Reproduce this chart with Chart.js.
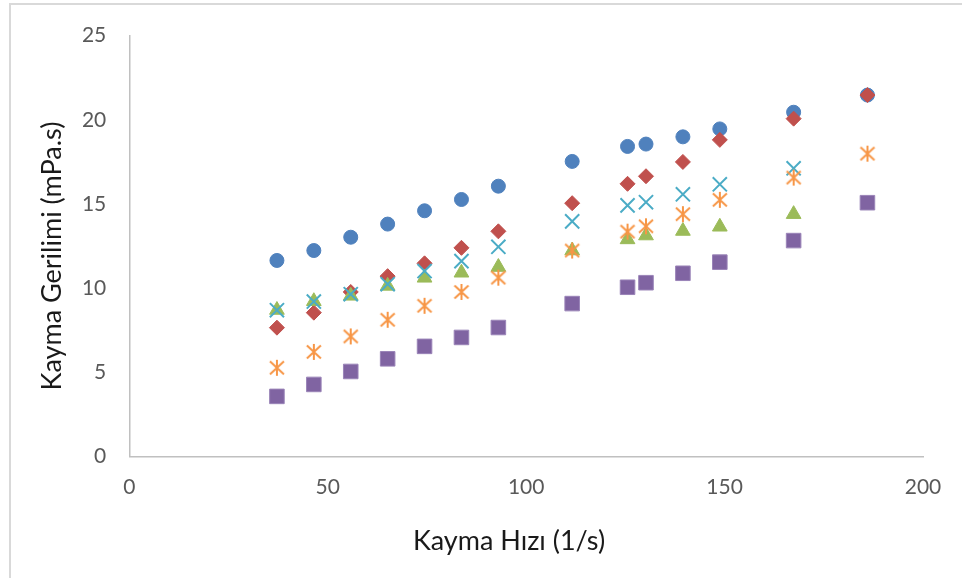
<!DOCTYPE html>
<html>
<head>
<meta charset="utf-8">
<script src="https://cdn.jsdelivr.net/npm/chart.js@4/dist/chart.umd.min.js"></script>
<style>
  html, body { margin: 0; padding: 0; background: #ffffff; }
  #wrap { position: relative; width: 962px; height: 578px; overflow: hidden; }
  #frame { position: absolute; left: 9px; top: 3px; width: 1000px; height: 600px;
           border-left: 2px solid #d9d9d9; border-top: 2px solid #d9d9d9; box-sizing: border-box; }
  canvas { position: absolute; left: 0; top: 0; }
</style>
</head>
<body>
<div id="wrap">
  <div id="frame"></div>
  <canvas id="chart" width="962" height="578"></canvas>
</div>
<script>
// Shear rate (1/s)
const shearRate = [37.2, 46.5, 55.8, 65.1, 74.4, 83.7, 93.0, 111.6, 125.55, 130.2, 139.5, 148.8, 167.4, 186.0];

// Shear stress series (mPa.s)
const seriesBlue   = [11.65, 12.24, 13.03, 13.81, 14.60, 15.27, 16.06, 17.53, 18.42, 18.56, 18.99, 19.46, 20.45, 21.47];
const seriesRed    = [7.66, 8.55, 9.78, 10.72, 11.48, 12.40, 13.38, 15.05, 16.20, 16.65, 17.50, 18.81, 20.07, 21.47];
const seriesGreen  = [8.71, 9.23, 9.55, 10.14, 10.62, 10.92, 11.26, 12.24, 12.90, 13.13, 13.40, 13.65, 14.40];
const seriesPurple = [3.58, 4.29, 5.06, 5.81, 6.55, 7.08, 7.67, 9.09, 10.06, 10.33, 10.89, 11.55, 12.83, 15.08];
const seriesCyan   = [8.70, 9.21, 9.65, 10.24, 11.02, 11.61, 12.46, 13.97, 14.92, 15.11, 15.58, 16.17, 17.12];
const seriesOrange = [5.28, 6.22, 7.14, 8.13, 8.96, 9.78, 10.63, 12.24, 13.36, 13.68, 14.40, 15.25, 16.57, 17.99];

// Axis ticks and titles
const xTicks = [0, 50, 100, 150, 200];
const yTicks = [0, 5, 10, 15, 20, 25];
const xTitle = 'Kayma Hızı (1/s)';
const yTitle = 'Kayma Gerilimi (mPa.s)';

function toPoints(values) {
  return values.map((v, i) => ({ x: shearRate[i], y: v }));
}

// Six-armed asterisk marker (X with a vertical stroke)
function asteriskMarker(color) {
  const c = document.createElement('canvas');
  c.width = 18; c.height = 18;
  const g = c.getContext('2d');
  g.strokeStyle = color;
  g.lineWidth = 2;
  g.lineCap = 'butt';
  g.beginPath();
  g.moveTo(2, 2.5); g.lineTo(16, 15.5);
  g.moveTo(16, 2.5); g.lineTo(2, 15.5);
  g.moveTo(9, 1); g.lineTo(9, 17);
  g.stroke();
  return c;
}

const FONT = 'Lato, "Open Sans", sans-serif';

const axisTitles = {
  id: 'axisTitles',
  afterDraw(chart) {
    const ctx = chart.ctx;
    ctx.save();
    ctx.fillStyle = '#1a1a1a';
    ctx.font = '27px ' + FONT;
    ctx.textAlign = 'center';
    ctx.textBaseline = 'middle';
    ctx.fillText(xTitle, 509, 541);
    ctx.translate(52, 256);
    ctx.rotate(-Math.PI / 2);
    ctx.fillText(yTitle, 0, 0);
    ctx.restore();
  }
};

new Chart(document.getElementById('chart'), {
  type: 'scatter',
  data: {
    datasets: [
      { label: 'S1', data: toPoints(seriesBlue), order: 6,
        pointStyle: 'circle', pointRadius: 7, borderWidth: 1,
        backgroundColor: '#4f81bd', borderColor: '#4f81bd' },
      { label: 'S2', data: toPoints(seriesRed), order: 5,
        pointStyle: 'rectRot', pointRadius: 7.5, borderWidth: 1,
        backgroundColor: '#c0504d', borderColor: '#c0504d' },
      { label: 'S3', data: toPoints(seriesGreen), order: 4,
        pointStyle: 'triangle', pointRadius: 8.5, borderWidth: 1,
        backgroundColor: '#9bbb59', borderColor: '#9bbb59' },
      { label: 'S4', data: toPoints(seriesPurple), order: 3,
        pointStyle: 'rect', pointRadius: 10.3, borderWidth: 1,
        backgroundColor: '#8064a2', borderColor: '#9a84b8' },
      { label: 'S5', data: toPoints(seriesCyan), order: 2,
        pointStyle: 'crossRot', pointRadius: 10, borderWidth: 2,
        backgroundColor: '#4bacc6', borderColor: '#4bacc6' },
      { label: 'S6', data: toPoints(seriesOrange), order: 1,
        pointStyle: asteriskMarker('#f79646'), pointRadius: 9,
        backgroundColor: '#f79646', borderColor: '#f79646' }
    ]
  },
  options: {
    responsive: false,
    animation: false,
    events: [],
    layout: { padding: { top: 33, right: 39, left: 0, bottom: 0 } },
    plugins: { legend: { display: false }, tooltip: { enabled: false } },
    scales: {
      x: {
        type: 'linear', min: 0, max: 200,
        afterFit(s) { s.height = 578 - 456.7; },
        afterBuildTicks(s) { s.ticks = xTicks.map(v => ({ value: v })); },
        grid: { display: false, drawTicks: false, tickLength: 0 },
        border: { display: true, color: '#c0c0c0', width: 1.5 },
        ticks: { padding: 18, color: '#595959', font: { family: FONT, size: 21 }, maxRotation: 0 }
      },
      y: {
        type: 'linear', min: 0, max: 25,
        afterFit(s) { s.width = 129.3; },
        afterBuildTicks(s) { s.ticks = yTicks.map(v => ({ value: v })); },
        grid: { display: false, drawTicks: false, tickLength: 0 },
        border: { display: true, color: '#c0c0c0', width: 1.5 },
        ticks: { padding: 23, color: '#595959', font: { family: FONT, size: 21 } }
      }
    }
  },
  plugins: [axisTitles]
});
</script>
</body>
</html>
